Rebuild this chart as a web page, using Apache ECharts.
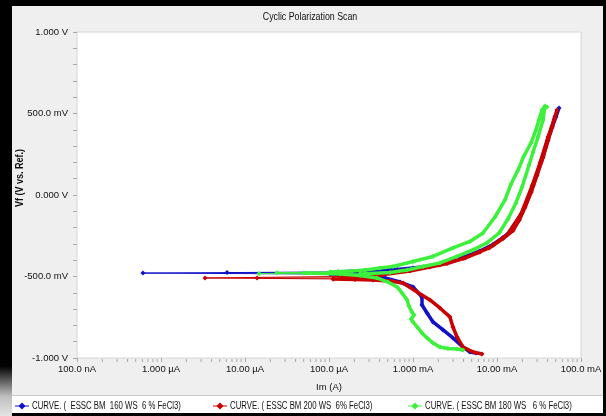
<!DOCTYPE html>
<html>
<head>
<meta charset="utf-8">
<script src="https://cdn.jsdelivr.net/npm/echarts@6/dist/echarts.min.js"></script>
<style>
  html, body { margin: 0; padding: 0; background: #000; }
  #chart { width: 606px; height: 416px; }
</style>
</head>
<body>
<div id="chart"></div>
<script>
// Cyclic polarization scans: [current (A), potential (V vs. Ref.)]
const seriesNames = [
  'CURVE. (  ESSC BM  160 WS  6 % FeCl3)',
  'CURVE. ( ESSC BM 200 WS  6% FeCl3)',
  'CURVE. ( ESSC BM 180 WS   6 % FeCl3)'
];
const seriesColors = ['#1010c8', '#c80000', '#3cf03c'];

// 160 WS
const blueCathodic = [[5.62e-3,-0.969],[4.77e-3,-0.963],[3.94e-3,-0.933],[2.99e-3,-0.877],[2.28e-3,-0.828],[1.73e-3,-0.779],[1.47e-3,-0.724],[1.28e-3,-0.675],[1.28e-3,-0.626],[1.0e-3,-0.564],[7.0e-4,-0.534],[4.64e-4,-0.509],[2.91e-4,-0.497],[1.78e-4,-0.491],[1.03e-4,-0.485]];
const blueDip = [[6.1e-7,-0.479]];
const blueAnodic = [[1.28e-4,-0.472],[2.69e-4,-0.463],[6.46e-4,-0.457],[1.0e-3,-0.448],[1.59e-3,-0.436],[2.54e-3,-0.414],[3.94e-3,-0.383],[6.28e-3,-0.344],[8.95e-3,-0.304],[1.18e-2,-0.261],[1.55e-2,-0.212],[1.83e-2,-0.150],[2.15e-2,-0.071],[2.54e-2,0.021],[2.99e-2,0.126],[3.53e-2,0.236],[4.05e-2,0.340],[4.52e-2,0.420],[4.90e-2,0.482],[5.47e-2,0.534]];
const blueReverse = [[5.03e-2,0.479],[4.28e-2,0.380],[3.34e-2,0.202],[2.69e-2,0.061],[1.99e-2,-0.110],[1.35e-2,-0.239],[8.26e-3,-0.319],[4.16e-3,-0.380],[2.09e-3,-0.423],[9.2e-4,-0.457],[4.05e-4,-0.472],[1.55e-4,-0.482]];
const blueReverseDip = [[6.11e-6,-0.475]];

// 200 WS
const redCathodic = [[6.62e-3,-0.975],[5.18e-3,-0.963],[3.94e-3,-0.933],[3.34e-3,-0.871],[2.99e-3,-0.810],[2.75e-3,-0.748],[2.09e-3,-0.693],[1.59e-3,-0.644],[1.12e-3,-0.595],[7.6e-4,-0.540],[5.32e-4,-0.528],[3.34e-4,-0.521],[2.04e-4,-0.518],[1.12e-4,-0.515]];
const redDip = [[3.34e-6,-0.509]];
const redAnodic = [[1.35e-4,-0.500],[4.05e-4,-0.495],[5.32e-4,-0.479],[7.0e-4,-0.466],[1.0e-3,-0.457],[1.59e-3,-0.442],[2.54e-3,-0.420],[3.94e-3,-0.390],[6.28e-3,-0.350],[8.95e-3,-0.310],[1.18e-2,-0.267],[1.55e-2,-0.218],[1.83e-2,-0.156],[2.15e-2,-0.077],[2.54e-2,0.015],[2.99e-2,0.120],[3.53e-2,0.230],[4.05e-2,0.334],[4.52e-2,0.414],[4.90e-2,0.475],[5.18e-2,0.521]];
const redReverse = [[4.77e-2,0.460],[4.05e-2,0.356],[3.25e-2,0.196],[2.61e-2,0.055],[1.93e-2,-0.117],[1.32e-2,-0.245],[8.04e-3,-0.325],[4.16e-3,-0.387],[2.09e-3,-0.429],[9.2e-4,-0.466],[4.05e-4,-0.491],[2.15e-4,-0.509]];
const redReverseDip = [[1.39e-5,-0.509]];

// 180 WS
const greenCathodic = [[3.94e-3,-0.951],[3.34e-3,-0.945],[2.61e-3,-0.942],[2.09e-3,-0.933],[1.73e-3,-0.908],[1.47e-3,-0.877],[1.28e-3,-0.847],[1.15e-3,-0.816],[1.0e-3,-0.779],[9.5e-4,-0.761],[1.03e-3,-0.736],[9.7e-4,-0.718],[8.95e-4,-0.681],[8.5e-4,-0.644],[7.4e-4,-0.601],[6.46e-4,-0.564],[5.03e-4,-0.534],[3.72e-4,-0.509],[2.34e-4,-0.494],[1.35e-4,-0.485],[5.03e-5,-0.479]];
const greenDip = [[2.40e-5,-0.477]];
const greenAnodic = [[1.03e-4,-0.472],[1.88e-4,-0.466],[2.69e-4,-0.460],[4.05e-4,-0.448],[5.78e-4,-0.439],[1.0e-3,-0.408],[1.73e-3,-0.377],[2.99e-3,-0.325],[4.77e-3,-0.285],[6.81e-3,-0.233],[9.46e-3,-0.135],[1.24e-2,-0.031],[1.47e-2,0.067],[1.78e-2,0.153],[2.09e-2,0.239],[2.54e-2,0.319],[2.91e-2,0.399],[3.16e-2,0.460],[3.44e-2,0.521],[3.73e-2,0.546]];
const greenReverse = [[3.94e-2,0.540],[3.53e-2,0.460],[3.08e-2,0.356],[2.69e-2,0.264],[2.41e-2,0.184],[1.99e-2,0.049],[1.68e-2,-0.049],[1.35e-2,-0.147],[1.06e-2,-0.233],[7.6e-3,-0.294],[5.18e-3,-0.337],[3.34e-3,-0.377],[2.09e-3,-0.417],[1.32e-3,-0.439],[8.5e-4,-0.460],[5.32e-4,-0.475],[2.34e-4,-0.485]];
const greenReverseDip = [[1.47e-5,-0.482]];

// Axis tick labels
const currentTickLabels = ['100.0 nA', '1.000 \u00b5A', '10.00 \u00b5A', '100.0 \u00b5A', '1.000 mA', '10.00 mA', '100.0 mA'];
const potentialTickLabels = { '-1': '-1.000 V', '-0.5': '-500.0 mV', '0': '0.000 V', '0.5': '500.0 mV', '1': '1.000 V' };

const curves = [
  { cat: blueCathodic, dip: blueDip, an: blueAnodic, rev: blueReverse, revDip: blueReverseDip },
  { cat: redCathodic, dip: redDip, an: redAnodic, rev: redReverse, revDip: redReverseDip },
  { cat: greenCathodic, dip: greenDip, an: greenAnodic, rev: greenReverse, revDip: greenReverseDip }
];

const FONT = '"Liberation Sans", Arial, sans-serif';

// Minor ticks on the current axis at 2..9 of every decade
const minorCurrentTicks = [];
for (let d = -7; d < -1; d++) {
  for (let m = 2; m <= 9; m++) minorCurrentTicks.push([m * Math.pow(10, d), -1]);
}

const series = [];
curves.forEach((c, i) => {
  const base = {
    type: 'line',
    name: seriesNames[i],
    symbol: 'diamond',
    symbolSize: 5,
    showSymbol: true,
    animation: false,
    itemStyle: { color: seriesColors[i] },
    z: 2 + i
  };
  // thick polarization branches
  series.push(Object.assign({}, base, { data: c.cat, lineStyle: { width: 3.5, color: seriesColors[i] } }));
  series.push(Object.assign({}, base, { data: c.an.concat(c.rev), lineStyle: { width: 3.5, color: seriesColors[i] } }));
  // thin segments through the corrosion-potential minimum
  series.push(Object.assign({}, base, {
    data: [c.cat[c.cat.length - 1], c.dip[0], c.an[0]],
    lineStyle: { width: 1, color: seriesColors[i] }
  }));
  series.push(Object.assign({}, base, {
    data: [c.rev[c.rev.length - 1], c.revDip[0]],
    lineStyle: { width: 1, color: seriesColors[i] }
  }));
});

series.push({
  type: 'custom',
  name: 'minorTicks',
  silent: true,
  clip: false,
  animation: false,
  data: minorCurrentTicks,
  renderItem: function (params, api) {
    const p = api.coord([api.value(0), api.value(1)]);
    return {
      type: 'line',
      shape: { x1: p[0], y1: p[1] + 1, x2: p[0], y2: p[1] + 4 },
      style: { stroke: '#a8a8a8', lineWidth: 1 }
    };
  }
});

// Legend row: line + diamond key followed by a condensed caption
const legendKeyX = [22, 220, 415];
const legendY = 406;
const legendGraphics = [];
seriesNames.forEach((name, i) => {
  const x = legendKeyX[i];
  legendGraphics.push({
    type: 'group',
    children: [
      { type: 'line', shape: { x1: x - 7, y1: legendY, x2: x + 7, y2: legendY }, style: { stroke: seriesColors[i], lineWidth: 1 } },
      { type: 'polygon', shape: { points: [[x, legendY - 3.5], [x + 3.5, legendY], [x, legendY + 3.5], [x - 3.5, legendY]] }, style: { fill: seriesColors[i] } },
      { type: 'text', x: x + 10, y: legendY, scaleX: 0.78, style: { text: name, font: '10px ' + FONT, fill: '#111', align: 'left', verticalAlign: 'middle' } }
    ]
  });
});

const chart = echarts.init(document.getElementById('chart'), null, { renderer: 'canvas' });
chart.setOption({
  backgroundColor: '#000',
  animation: false,
  graphic: [
    { type: 'rect', z: -10, shape: { x: 12, y: 6, width: 591, height: 389 }, style: { fill: '#efefef' } },
    { type: 'rect', z: -10, shape: { x: 12, y: 396, width: 591, height: 17 }, style: { fill: '#ffffff' } },
    { type: 'rect', z: -10, shape: { x: 12, y: 395, width: 591, height: 1 }, style: { fill: '#c8c8c8' } },
    { type: 'rect', z: -10, shape: { x: 0, y: 366, width: 12, height: 50 },
      style: { fill: { type: 'linear', x: 0, y: 0, x2: 0, y2: 1, colorStops: [{ offset: 0, color: '#000' }, { offset: 0.6, color: '#bdbdbd' }, { offset: 1, color: '#e4e4e4' }] } } },
    { type: 'text', x: 310, y: 17, scaleX: 0.8, style: { text: 'Cyclic Polarization Scan', font: '11px ' + FONT, fill: '#111', align: 'center', verticalAlign: 'middle' } },
    { type: 'text', x: 20, y: 178, rotation: Math.PI / 2, scaleX: 0.9, style: { text: 'Vf (V vs. Ref.)', font: 'bold 10px ' + FONT, fill: '#111', align: 'center', verticalAlign: 'middle' } }
  ].concat(legendGraphics),
  grid: {
    left: 77, right: 25, top: 32, bottom: 58,
    show: true, backgroundColor: '#ffffff', borderColor: '#d6d6d6', borderWidth: 1
  },
  xAxis: {
    type: 'log',
    logBase: 10,
    min: 1e-7,
    max: 1e-1,
    name: 'Im (A)',
    nameLocation: 'middle',
    nameGap: 24,
    nameTextStyle: { fontFamily: FONT, fontSize: 9.5, color: '#111' },
    axisLine: { show: false, onZero: false },
    axisTick: { show: true, length: 4, lineStyle: { color: '#a8a8a8' } },
    splitLine: { show: false },
    axisLabel: {
      margin: 6,
      fontFamily: FONT, fontSize: 9.5, color: '#111',
      formatter: function (v) {
        const k = Math.round(Math.log10(v)) + 7;
        return currentTickLabels[k] || '';
      }
    }
  },
  yAxis: {
    type: 'value',
    min: -1,
    max: 1,
    interval: 0.5,
    axisLine: { show: false, onZero: false },
    axisTick: { show: true, length: 4, lineStyle: { color: '#a8a8a8' } },
    minorTick: { show: true, splitNumber: 5, length: 4, lineStyle: { color: '#a8a8a8' } },
    splitLine: { show: false },
    minorSplitLine: { show: false },
    axisLabel: {
      margin: 9,
      fontFamily: FONT, fontSize: 9.5, color: '#111',
      formatter: function (v) {
        return potentialTickLabels[String(Math.round(v * 10) / 10)] || '';
      }
    }
  },
  series: series
});
</script>
</body>
</html>
